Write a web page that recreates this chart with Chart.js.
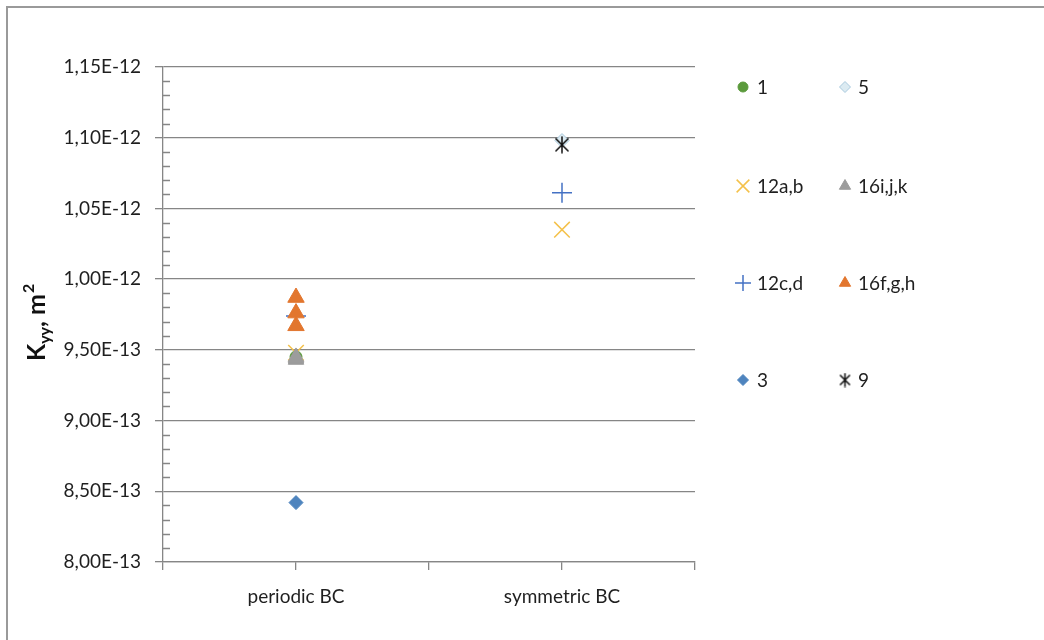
<!DOCTYPE html>
<html>
<head>
<meta charset="utf-8">
<script src="https://cdn.jsdelivr.net/npm/chart.js@4.4.1/dist/chart.umd.min.js"></script>
<style>
    html, body { margin: 0; padding: 0; background: #fff; }
    #wrap { position: relative; width: 1044px; height: 640px; }
</style>
</head>
<body>
<div id="wrap"><canvas id="kyy-chart" width="1044" height="640"></canvas></div>
<script>
// Categories on the x axis
const categories = ['periodic BC', 'symmetric BC'];

// Y axis major ticks and their labels
const yTicks = [8.0e-13, 8.5e-13, 9.0e-13, 9.5e-13, 1.0e-12, 1.05e-12, 1.1e-12, 1.15e-12];
const yTickLabels = ['8,00E-13', '8,50E-13', '9,00E-13', '9,50E-13', '1,00E-12', '1,05E-12', '1,10E-12', '1,15E-12'];

// Kyy values per series: one list per category (several runs can share a category)
const kyy1     = [[9.45e-13], []];
const kyy5     = [[], [1.098e-12]];
const kyy12ab  = [[9.48e-13], [1.035e-12]];
const kyy16ijk = [[9.43e-13, 9.44e-13, 9.45e-13], []];
const kyy12cd  = [[9.74e-13], [1.061e-12]];
const kyy16fgh = [[9.87e-13, 9.76e-13, 9.67e-13], []];
const kyy3     = [[8.42e-13], []];
const kyy9     = [[], [1.095e-12]];

const gridColor = '#868686';
const textColor = '#1f1f1f';
const fontFamily = 'Lato, "Open Sans", sans-serif';
const labelSize = 19;

// Excel-like star marker (X with a vertical bar)
function makeStar(size, color) {
    const c = document.createElement('canvas');
    c.width = size;
    c.height = size;
    const g = c.getContext('2d');
    const m = 1.5;
    g.strokeStyle = color;
    g.lineWidth = 1.5;
    g.beginPath();
    g.moveTo(m + 1, m + 1); g.lineTo(size - m - 1, size - m - 1);
    g.moveTo(size - m - 1, m + 1); g.lineTo(m + 1, size - m - 1);
    g.moveTo(size / 2, m - 1); g.lineTo(size / 2, size - m + 1);
    g.stroke();
    return c;
}

const starBig = makeStar(18, '#111');
const starSmall = makeStar(15, '#111');

// Series in Excel order (later ones are drawn on top)
const series = [
    { name: '1',       values: kyy1,     style: 'circle',   r: 6,   lr: 5,   fill: '#5b9a3c', stroke: '#5b9a3c', bw: 1 },
    { name: '5',       values: kyy5,     style: 'rectRot',  r: 7,   lr: 5.5, fill: '#dcebf2', stroke: '#a9c9dd', bw: 1 },
    { name: '12a,b',   values: kyy12ab,  style: 'crossRot', r: 11,  lr: 9,   fill: '#f4c14a', stroke: '#f4c14a', bw: 1.5 },
    { name: '16i,j,k', values: kyy16ijk, style: 'triangle', r: 9,   lr: 6.5, fill: '#9c9c9c', stroke: '#9c9c9c', bw: 1 },
    { name: '12c,d',   values: kyy12cd,  style: 'cross',    r: 10,  lr: 8,   fill: '#4471c4', stroke: '#4471c4', bw: 1.5 },
    { name: '16f,g,h', values: kyy16fgh, style: 'triangle', r: 9.5, lr: 6.5, fill: '#e2762e', stroke: '#e2762e', bw: 1 },
    { name: '3',       values: kyy3,     style: 'rectRot',  r: 7,   lr: 5.5, fill: '#4e84be', stroke: '#4e84be', bw: 1 },
    { name: '9',       values: kyy9,     style: starBig,    r: 8,   lr: 7,   fill: '#111',    stroke: '#111',    bw: 1, legendStyle: starSmall }
];

function toPoints(values) {
    const pts = [];
    values.forEach(function(list, i) {
        list.forEach(function(v) {
            pts.push({ x: 2 * i + 1, y: v });
        });
    });
    return pts;
}

const datasets = series.map(function(s, i) {
    return {
        label: s.name,
        data: toPoints(s.values),
        order: -i,
        showLine: false,
        pointStyle: s.style,
        pointRadius: s.r,
        pointHoverRadius: s.r,
        pointBackgroundColor: s.fill,
        pointBorderColor: s.stroke,
        pointBorderWidth: s.bw
    };
});

// Minor ticks, y title, legend and outer frame
const decorPlugin = {
    id: 'decor',
    beforeDraw: function(chart) {
        const ctx = chart.ctx;
        ctx.save();
        ctx.strokeStyle = '#9a9a9a';
        ctx.lineWidth = 2;
        ctx.strokeRect(7, 7, 1200, 800);
        ctx.restore();
    },
    afterDraw: function(chart) {
        const ctx = chart.ctx;
        const y = chart.scales.y;
        const area = chart.chartArea;

        // minor ticks inside the value axis
        ctx.save();
        ctx.strokeStyle = gridColor;
        ctx.lineWidth = 1.3;
        ctx.beginPath();
        for (let i = 0; i < yTicks.length - 1; i++) {
            const step = (yTicks[i + 1] - yTicks[i]) / 5;
            for (let k = 1; k < 5; k++) {
                const py = Math.round(y.getPixelForValue(yTicks[i] + k * step)) + 0.5;
                ctx.moveTo(area.left, py);
                ctx.lineTo(area.left + 7, py);
            }
        }
        ctx.stroke();
        ctx.restore();

        // y axis title: K_yy, m^2
        ctx.save();
        ctx.translate(45, 361);
        ctx.rotate(-Math.PI / 2);
        ctx.fillStyle = '#111';
        ctx.textBaseline = 'alphabetic';
        ctx.textAlign = 'left';
        let x = 0;
        ctx.font = 'bold 25px ' + fontFamily;
        ctx.fillText('K', x, 0);
        x += ctx.measureText('K').width;
        ctx.font = 'bold 16px ' + fontFamily;
        ctx.fillText('yy', x, 5);
        x += ctx.measureText('yy').width;
        ctx.font = 'bold 25px ' + fontFamily;
        ctx.fillText(', m', x, 0);
        x += ctx.measureText(', m').width + 1;
        ctx.font = 'bold 16px ' + fontFamily;
        ctx.fillText('2', x, -11);
        ctx.restore();

        // legend: two columns, four rows
        const colMarker = [743, 845];
        const colText = [757, 858];
        const rowY = [87, 186, 283, 380];
        ctx.save();
        ctx.font = labelSize + 'px ' + fontFamily;
        ctx.textBaseline = 'middle';
        ctx.textAlign = 'left';
        series.forEach(function(s, i) {
            const col = i % 2;
            const row = Math.floor(i / 2);
            const cy = rowY[row];
            ctx.fillStyle = s.fill;
            ctx.strokeStyle = s.stroke;
            ctx.lineWidth = s.bw;
            Chart.helpers.drawPoint(ctx, {
                pointStyle: s.legendStyle || s.style,
                radius: s.lr,
                rotation: 0,
                borderWidth: s.bw
            }, colMarker[col], cy);
            ctx.fillStyle = textColor;
            ctx.fillText(s.name, colText[col], cy + 1);
        });
        ctx.restore();
    }
};

new Chart(document.getElementById('kyy-chart'), {
    type: 'scatter',
    data: { datasets: datasets },
    plugins: [decorPlugin],
    options: {
        responsive: false,
        animation: false,
        layout: {
            padding: { left: 0, top: 67, right: 349, bottom: 0 }
        },
        plugins: {
            legend: { display: false },
            tooltip: { enabled: false }
        },
        scales: {
            x: {
                type: 'linear',
                min: 0,
                max: 4,
                afterBuildTicks: function(scale) {
                    scale.ticks = [0, 1, 2, 3, 4].map(function(v) { return { value: v }; });
                },
                afterFit: function(scale) {
                    scale.height = 78;
                },
                ticks: {
                    autoSkip: false,
                    maxRotation: 0,
                    padding: 15,
                    color: textColor,
                    font: { family: fontFamily, size: labelSize },
                    callback: function(value) {
                        return value % 2 === 1 ? categories[(value - 1) / 2] : '';
                    }
                },
                grid: {
                    drawOnChartArea: false,
                    drawTicks: true,
                    tickLength: 8,
                    color: gridColor,
                    lineWidth: 1.3
                },
                border: { color: gridColor, width: 1.3 }
            },
            y: {
                min: yTicks[0],
                max: yTicks[yTicks.length - 1],
                afterBuildTicks: function(scale) {
                    scale.ticks = yTicks.map(function(v) { return { value: v }; });
                },
                afterFit: function(scale) {
                    scale.width = 163;
                },
                ticks: {
                    autoSkip: false,
                    padding: 14,
                    color: textColor,
                    font: { family: fontFamily, size: labelSize },
                    callback: function(value, index) {
                        return yTickLabels[index];
                    }
                },
                grid: {
                    color: gridColor,
                    lineWidth: 1.3,
                    tickLength: 8
                },
                border: { color: gridColor, width: 1.3 }
            }
        }
    }
});
</script>
</body>
</html>
